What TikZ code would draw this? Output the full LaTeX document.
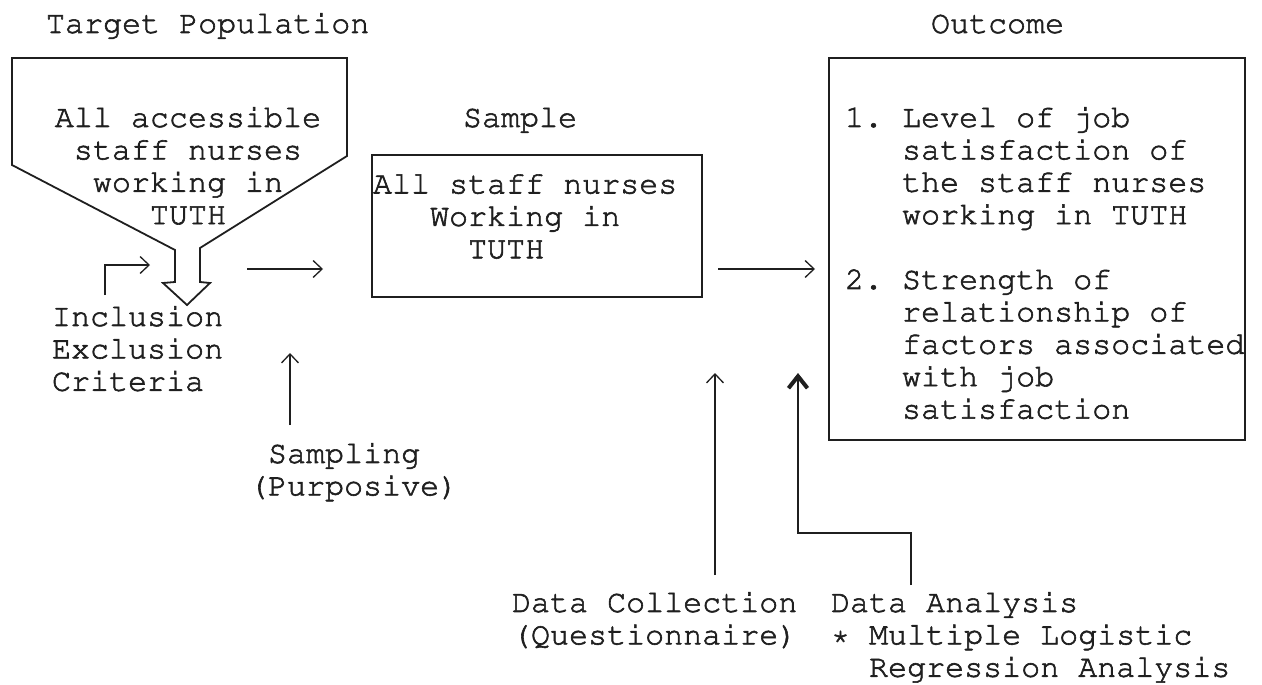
\documentclass[tikz,border=0pt]{standalone}
\usepackage[T1]{fontenc}
\usetikzlibrary{arrows.meta}
\definecolor{ink}{gray}{0.12}
% typewriter face: Courier clone at 10 characters per 190pt, lines 32.4pt apart;
% the glyph outlines are also stroked a little to give the heavier typed look
\newcommand{\inkier}{\special{pdf:literal direct 2 Tr 0.6 w}}
\newcommand{\twfont}{\fontencoding{T1}\fontfamily{pcr}\fontseries{m}\fontshape{n}%
  \fontsize{31.7pt}{32.4pt}\selectfont\frenchspacing\inkier}
\newcommand{\cols}[1]{\hspace*{#1\dimexpr 19.02pt\relax}}
\begin{document}
\begin{tikzpicture}[x=1pt,y=-1pt,
  tw/.style={font=\twfont, inner sep=0pt, outer sep=0pt, text=ink, anchor=north west},
  twc/.style={tw, anchor=north, align=center},
  twl/.style={tw, align=left},
  frame/.style={draw=ink, line width=1.8pt, line join=miter},
  thick frame/.style={draw=ink, line width=2.6pt},
  arr/.style={draw=ink, line width=1.3pt,
    -{Straight Barb[length=9pt,width=17pt,line width=1.3pt]}},
  bold arr/.style={draw=ink, line width=1.9pt,
    -{Straight Barb[length=12pt,width=19pt,line width=4pt]}},
]
\useasboundingbox (0,0) rectangle (1262,685);

% column headings
\node[tw] (poptitle) at (46,10.3) {\strut Target Population};
\node[tw] (outtitle) at (931,10.3) {\strut Outcome};
\node[tw] (samptitle) at (463,104.3) {\strut Sample};

% funnel of the target population, narrowing into a downward arrow
\draw[frame] (12,58) -- (347,58) -- (347,156) -- (200,248) -- (200,282)
  -- (210,283) -- (187,305) -- (163,283) -- (175,282) -- (175,250)
  -- (12,165) -- cycle;
\node[twc] (pop) at (188,104.3)
  {\strut All accessible\\staff nurses\\working in\\TUTH};

% sample box
\draw[frame] (372,155) rectangle (702,297);
\node[twl] (sample) at (373,170.8)
  {\strut All staff nurses\\\cols{3}Working in\\\cols{5}TUTH};

% outcome box
\draw[thick frame] (829,58) rectangle (1245,440);
\node[twl] (outcome) at (845,104.3)
  {\strut 1. Level of job\\
   \cols{3}satisfaction of\\
   \cols{3}the staff nurses\\
   \cols{3}working in TUTH\\[32.4pt]
   2. Strength of\\
   \cols{3}relationship of\\
   \cols{3}factors associated\\
   \cols{3}with job\\
   \cols{3}satisfaction};

% labels of the steps
\node[twl] (criteria) at (52,303.3)
  {\strut Inclusion\\Exclusion\\Criteria};
\node[twl] (sampling) at (249,440.3)
  {\strut\cols{1}Sampling\\(Purposive)};
\node[twl] (collect) at (512,589.3)
  {\strut Data Collection\\(Questionnaire)};
\node[twl] (analysis) at (831,589.3)
  {\strut Data Analysis\\* Multiple Logistic\\\cols{2}Regression Analysis};

% arrow ends
\coordinate (inclA) at (105,295);
\coordinate (inclB) at (150,265);
\coordinate (popA) at (247,269);
\coordinate (popB) at (323,269);
\coordinate (sampA) at (718,269);
\coordinate (sampB) at (815,269);
\coordinate (smpA) at (290,425);
\coordinate (smpB) at (290,353);
\coordinate (colA) at (715,575);
\coordinate (colB) at (715,373);
\coordinate (anaA) at (911,585);
\coordinate (anaM) at (798,533);
\coordinate (anaB) at (798,373);

% connectors
\draw[arr] (inclA) |- (inclB);
\draw[arr] (popA) -- (popB);
\draw[arr] (sampA) -- (sampB);
\draw[arr] (smpA) -- (smpB);
\draw[arr] (colA) -- (colB);
\draw[bold arr] (anaA) |- (anaM) -- (anaB);
\end{tikzpicture}
\end{document}
